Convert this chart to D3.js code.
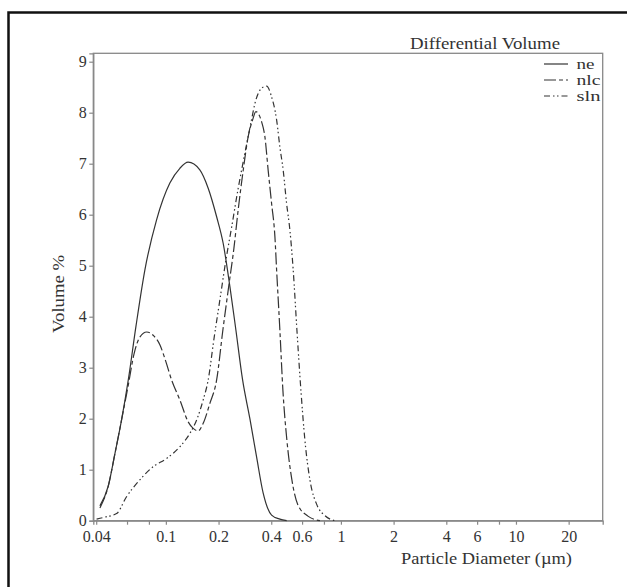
<!DOCTYPE html>
<html><head><meta charset="utf-8">
<script src="https://cdn.jsdelivr.net/npm/d3@7"></script>
<style>
html,body{margin:0;padding:0;background:#fff;}
svg{display:block;}
text{font-family:"Liberation Serif","DejaVu Serif",serif;fill:#333;}
</style></head>
<body>
<script>
// Data (diameter in µm, volume %)
const neD = [0.042,0.0468,0.0512,0.0558,0.061,0.0674,0.0759,0.0885,0.1054,0.1202,0.134,0.1563,0.1745,0.195,0.2125,0.2322,0.2512,0.2744,0.302,0.3298,0.3597,0.4018,0.448,0.49];
const neV = [0.29,0.67,1.32,1.97,2.76,3.80,4.92,5.90,6.62,6.91,7.03,6.88,6.52,5.96,5.44,4.59,3.74,2.76,2.0,1.25,0.54,0.11,0.03,0.0];
const nlcD = [0.042,0.0468,0.0512,0.0558,0.061,0.0656,0.071,0.0778,0.0843,0.0924,0.1,0.1078,0.1202,0.134,0.1432,0.153,0.1634,0.1784,0.195,0.2117,0.2291,0.2447,0.2588,0.2766,0.2953,0.313,0.3268,0.3524,0.3679,0.3841,0.4018,0.4197,0.4292,0.448,0.4662,0.4913,0.5248,0.568,0.6478,0.7586];
const nlcV = [0.25,0.67,1.32,1.97,2.66,3.25,3.60,3.70,3.64,3.45,3.12,2.76,2.37,1.94,1.81,1.76,1.91,2.30,2.76,3.74,4.62,5.34,6.09,6.87,7.53,7.86,8.02,7.82,7.53,6.87,6.22,5.57,4.92,3.74,2.56,1.58,0.80,0.31,0.09,0.0];
const slnD = [0.0402,0.0448,0.0523,0.0596,0.071,0.0846,0.1009,0.1202,0.137,0.1497,0.1634,0.1745,0.188,0.2035,0.2203,0.2385,0.2578,0.2792,0.302,0.3268,0.3524,0.3762,0.4018,0.4292,0.448,0.4681,0.4894,0.5111,0.5338,0.5606,0.5908,0.6227,0.6652,0.7294,0.8103,0.924];
const slnV = [0.03,0.07,0.14,0.47,0.80,1.06,1.22,1.45,1.71,1.97,2.37,2.76,3.55,4.33,5.11,5.79,6.48,7.11,7.70,8.25,8.48,8.52,8.31,7.86,7.33,6.87,6.22,5.70,4.92,3.74,2.56,1.58,0.80,0.31,0.10,0.0];
const seriesNames = ["ne","nlc","sln"];
const xTickLabels = [0.04,0.1,0.2,0.4,0.6,1,2,4,6,10,20];
const xMinorTicks = [0.06,0.08,0.8,8];
const yTicks = [0,1,2,3,4,5,6,7,8,9];
const title = "Differential Volume";
const xTitle = "Particle Diameter (\u00b5m)";
const yTitle = "Volume %";

const W = 627, H = 587;
const L = 93.3, R = 602.7, T = 53.3, B = 520.7;
const svg = d3.select("body").append("svg").attr("width", W).attr("height", H);

// outer frame
svg.append("rect").attr("x", 8.5).attr("y", 12.5).attr("width", 640).attr("height", 600)
  .attr("fill", "none").attr("stroke", "#111").attr("stroke-width", 2.5);

const x = d3.scaleLog().domain([0.0385, 31.3]).range([L, R]);
const y = d3.scaleLinear().domain([0, (B - T) / 51]).range([B, T]);

// plot frame
svg.append("rect").attr("x", L).attr("y", T).attr("width", R - L).attr("height", B - T)
  .attr("fill", "none").attr("stroke", "#888").attr("stroke-width", 1.3);

const xAxis = svg.append("g").attr("transform", `translate(0,${B})`)
  .call(d3.axisBottom(x).tickValues(xTickLabels.concat(xMinorTicks))
    .tickFormat(d => xTickLabels.includes(d) ? String(d) : "").tickSizeOuter(0).tickSize(4).tickPadding(6));
const yAxis = svg.append("g").attr("transform", `translate(${L},0)`)
  .call(d3.axisLeft(y).tickValues(yTicks).tickFormat(d3.format("d")).tickSizeOuter(0).tickSize(4).tickPadding(2.5));
[xAxis, yAxis].forEach(g => {
  g.select(".domain").attr("stroke", "#888").attr("stroke-width", 1.3);
  g.selectAll(".tick line").attr("stroke", "#888").attr("stroke-width", 1.2);
  g.selectAll(".tick text").attr("font-family", "Liberation Serif, serif").attr("font-size", 16).attr("fill", "#333");
});

// title and axis labels
svg.append("text").attr("x", 560).attr("y", 49).attr("text-anchor", "end").attr("font-size", 17)
  .attr("textLength", 150).attr("lengthAdjust", "spacingAndGlyphs").text(title);
svg.append("text").attr("x", 572).attr("y", 564).attr("text-anchor", "end").attr("font-size", 17)
  .attr("textLength", 171).attr("lengthAdjust", "spacingAndGlyphs").text(xTitle);
svg.append("text").attr("transform", "translate(64,294) rotate(-90)").attr("text-anchor", "middle").attr("font-size", 17)
  .attr("textLength", 78).attr("lengthAdjust", "spacingAndGlyphs").text(yTitle);

// curves
const styles = ["none", "12,3,4,3", "6,3,1.5,2.5,1.5,3"];
const data = [
  neD.map((d, i) => [d, neV[i]]),
  nlcD.map((d, i) => [d, nlcV[i]]),
  slnD.map((d, i) => [d, slnV[i]])
];
const line = d3.line().x(d => x(d[0])).y(d => y(d[1])).curve(d3.curveMonotoneX);
data.forEach((pts, i) => {
  svg.append("path").datum(pts).attr("d", line).attr("fill", "none")
    .attr("stroke", "#333").attr("stroke-width", 1.2)
    .attr("stroke-dasharray", styles[i]);
});

// legend
const leg = svg.append("g");
seriesNames.forEach((n, i) => {
  const yy = 64 + i * 16;
  leg.append("line").attr("x1", 544).attr("x2", 568).attr("y1", yy).attr("y2", yy)
    .attr("stroke", "#333").attr("stroke-width", 1.2).attr("stroke-dasharray", styles[i]);
  const t = leg.append("text").attr("x", 576.5).attr("y", yy + 4.5).attr("font-size", 14).text(n);
  t.attr("textLength", n.length === 2 ? 18 : 24).attr("lengthAdjust", "spacingAndGlyphs");
});
</script>
</body></html>
